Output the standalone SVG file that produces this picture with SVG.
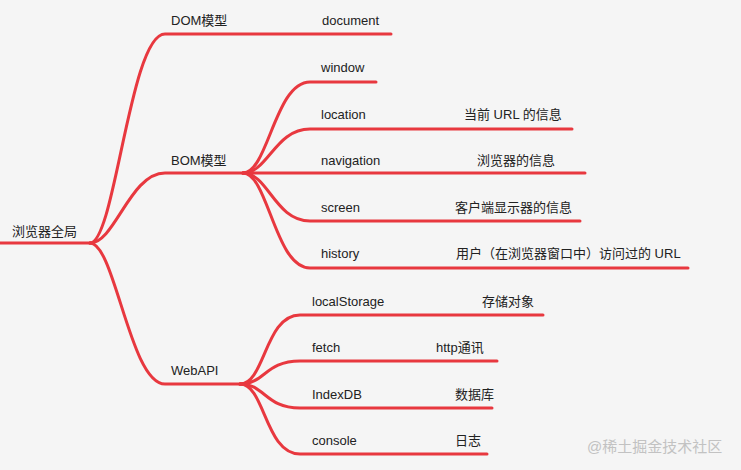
<svg xmlns="http://www.w3.org/2000/svg" width="741" height="470" viewBox="0 0 741 470">
<style>
.bg{fill:#f5f5f5}
.ln{fill:none;stroke:#e8383f;stroke-width:3;stroke-linecap:round}
text{font-family:"Liberation Sans","Noto Sans CJK SC",sans-serif;font-size:13px;fill:#222}
.wm{font-size:15px;fill:#c2c2c2}
</style>
<rect class="bg" x="0" y="0" width="741" height="470"/>
<g id="connectors">
<path class="ln" d="M0,243 H90"/>
<path class="ln" d="M90,243 C115,243 130,34 165,34 H391"/>
<path class="ln" d="M90,243 C115,243 130,173 165,173 H243"/>
<path class="ln" d="M90,243 C115,243 130,384 165,384 H240"/>
<path class="ln" d="M243,173 C268,173 275,82 310,82 H376"/>
<path class="ln" d="M243,173 C268,173 275,129 310,129 H572"/>
<path class="ln" d="M243,173 H585"/>
<path class="ln" d="M243,173 C268,173 275,221 310,221 H580"/>
<path class="ln" d="M243,173 C268,173 275,268 310,268 H688"/>
<path class="ln" d="M240,384 C265,384 265,315 300,315 H543"/>
<path class="ln" d="M240,384 C265,384 265,361 300,361 H497"/>
<path class="ln" d="M240,384 C265,384 265,408 300,408 H492"/>
<path class="ln" d="M240,384 C265,384 265,454 300,454 H487"/>
</g>
<g id="root"><text x="12" y="236">浏览器全局</text></g>
<g id="dom"><text x="171" y="25">DOM模型</text></g>
<g id="document"><text x="322" y="25">document</text></g>
<g id="bom"><text x="171" y="165">BOM模型</text></g>
<g id="window"><text x="321" y="72">window</text></g>
<g id="location"><text x="321" y="119">location</text><text x="464" y="119">当前 URL 的信息</text></g>
<g id="navigation"><text x="321" y="165">navigation</text><text x="477" y="165">浏览器的信息</text></g>
<g id="screen"><text x="321" y="212">screen</text><text x="455" y="212">客户端显示器的信息</text></g>
<g id="history"><text x="321" y="258">history</text><text x="456" y="258">用户（在浏览器窗口中）访问过的 URL</text></g>
<g id="webapi"><text x="171" y="375">WebAPI</text></g>
<g id="localStorage"><text x="312" y="306">localStorage</text><text x="482" y="306">存储对象</text></g>
<g id="fetch"><text x="312" y="352">fetch</text><text x="436" y="352">http通讯</text></g>
<g id="indexdb"><text x="312" y="399">IndexDB</text><text x="455" y="399">数据库</text></g>
<g id="console"><text x="312" y="445">console</text><text x="455" y="445">日志</text></g>
<text class="wm" x="587" y="452">@稀土掘金技术社区</text>
</svg>
